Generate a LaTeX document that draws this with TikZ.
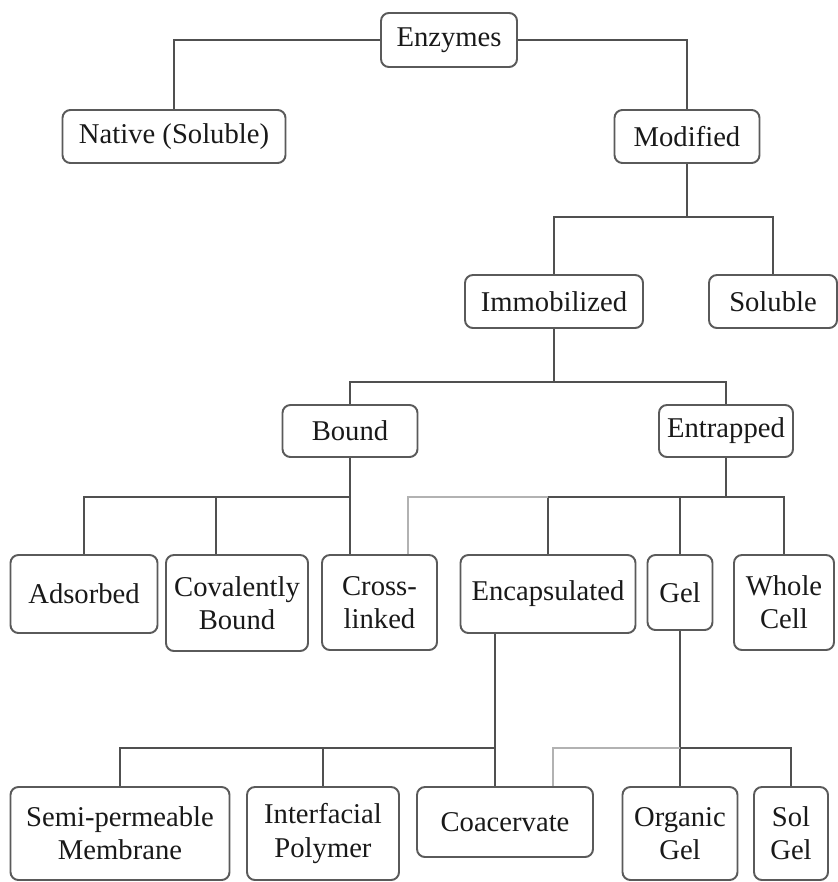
\documentclass[tikz,border=0pt]{standalone}
\usepackage{fontspec}
\setmainfont{Liberation Serif}
\usepackage{tikz}
\usetikzlibrary{positioning}
\definecolor{linegray}{RGB}{80,80,80}
\definecolor{fadegray}{RGB}{178,178,178}
\definecolor{boxgray}{RGB}{90,90,90}
\definecolor{inkgray}{RGB}{25,25,25}
\tikzset{
  box/.style={draw=boxgray,line width=1.1pt,rounded corners=4.5pt,fill=white,
    text=inkgray,align=center,inner sep=0pt,font=\fontsize{16.3}{18.8}\selectfont},
  sz/.style 2 args={minimum width=#1*0.02cm,minimum height=#2*0.02cm},
  conn/.style={draw=linegray,line width=1.1pt},
  faint/.style={draw=fadegray,line width=1.1pt}
}

\begin{document}
\begin{tikzpicture}[x=0.02cm,y=-0.02cm]
  \fill[white] (0,0) rectangle (837,882);
  \coordinate (lv1) at (0,217);
  \coordinate (lv2) at (0,382);
  \coordinate (lv3) at (0,497);
  \coordinate (lv4) at (0,748);
  \coordinate (jc) at (495,748);

  \node[box,sz={136}{54}] (enz) at (449,40) {Enzymes};
  \node[box,sz={223}{53}] (nat) at (174,136.5) {Native (Soluble)};
  \node[box,sz={145}{53}] (mod) at (687,136.5) {Modified};
  \node[box,sz={178}{53}] (imm) at (554,301.5) {Immobilized};
  \node[box,sz={128}{53}] (sol) at (773,301.5) {Soluble};
  \node[box,sz={135}{52}] (bnd) at (350,431) {Bound};
  \node[box,sz={134}{52}] (ent) at (726,431) {Entrapped};

  \node[box,sz={147}{78}] (ads) at (84,594) {Adsorbed};
  \node[box,sz={142}{96}] (cov) at (237,603) {Covalently\\Bound};
  \node[box,sz={115}{95}] (crs) at (379.5,602.5) {Cross-\\linked};
  \node[box,sz={175}{78}] (enc) at (548,594) {Encapsulated};
  \node[box,sz={65}{75}] (gel) at (680,592.5) {Gel};
  \node[box,sz={100}{95}] (whl) at (784,602.5) {Whole\\Cell};

  \node[box,sz={219}{93}] (smp) at (120,833.5) {Semi-permeable\\Membrane};
  \node[box,sz={152}{93}] (ifp) at (323,833.5) {Interfacial\\Polymer};
  \node[box,sz={176}{70}] (coa) at (505,822) {Coacervate};
  \node[box,sz={115}{93}] (org) at (680,833.5) {Organic\\Gel};
  \node[box,sz={74}{93}] (sgl) at (791,833.5) {Sol\\Gel};

  \draw[conn] (enz.west) -| (nat.north);
  \draw[conn] (enz.east) -| (mod.north);
  \draw[conn] (mod.south) -- (mod.south |- lv1);
  \draw[conn] (imm.north) |- (lv1 -| sol.north) -- (sol.north);
  \draw[conn] (imm.south) -- (imm.south |- lv2);
  \draw[conn] (bnd.north) |- (lv2 -| ent.north) -- (ent.north);

  \draw[conn] (bnd.south) -- (bnd.south |- crs.north);
  \draw[conn] (ads.north) |- (lv3 -| bnd.south);
  \draw[conn] ([xshift=-0.42cm]cov.north) -- ++(0,-58);
  \draw[conn] (ent.south) -- (ent.south |- lv3);
  \draw[conn] (enc.north) |- (lv3 -| whl.north) -- (whl.north);
  \draw[conn] (gel.north) -- (gel.north |- lv3);
  \draw[faint] ([xshift=0.57cm]crs.north) |- (lv3 -| enc.north);

  \draw[conn] (enc.south -| jc) -- (coa.north -| jc);
  \draw[conn] (smp.north) |- (jc);
  \draw[conn] (ifp.north) -- (ifp.north |- lv4);
  \draw[conn] (gel.south) -- (org.north);
  \draw[conn] (org.north |- lv4) -| (sgl.north);
  \draw[faint] ([xshift=0.96cm]coa.north) |- (org.north |- lv4);
\end{tikzpicture}
\end{document}
